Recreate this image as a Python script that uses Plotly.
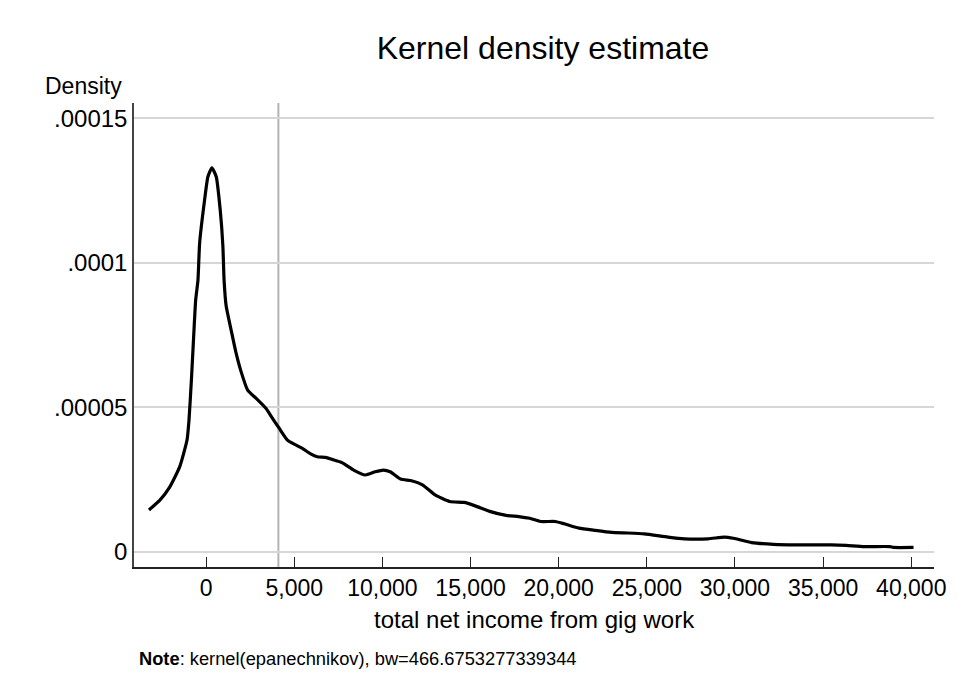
import plotly.graph_objects as go

# Kernel density estimate values
income = [-3240, -2620, -2057, -1494, -1082, -970, -834, -687, -592, -462, -366,
          -85, 102, 327, 575, 800, 950, 1020, 1138, 1420, 1702, 1984, 2356, 2829,
          3393, 3766, 4143, 4612, 5085, 5457, 5930, 6302, 6776, 7147, 7711, 8371,
          9030, 9594, 10062, 10440, 11032, 11651, 12270, 12992, 13818, 14643,
          15262, 16088, 17016, 17739, 18358, 18977, 19802, 20318, 21144, 22072,
          23000, 23929, 24857, 26199, 27127, 28469, 29397, 29913, 30945, 32183,
          33421, 35485, 36310, 37342, 38787, 38993, 40128]
density_e5 = [1.44, 1.78, 2.24, 2.94, 3.86, 4.55, 5.94, 7.67, 8.71, 9.4, 10.69,
              12.18, 12.98, 13.29, 12.98, 11.83, 10.6, 9.4, 8.5, 7.67, 6.87, 6.23,
              5.59, 5.31, 4.96, 4.61, 4.27, 3.86, 3.69, 3.57, 3.38, 3.28, 3.26,
              3.19, 3.08, 2.82, 2.65, 2.76, 2.82, 2.76, 2.51, 2.45, 2.31, 1.96,
              1.73, 1.70, 1.58, 1.39, 1.25, 1.21, 1.15, 1.04, 1.04, 0.96, 0.81,
              0.73, 0.66, 0.64, 0.61, 0.50, 0.44, 0.44, 0.50, 0.46, 0.31, 0.25,
              0.23, 0.23, 0.21, 0.17, 0.17, 0.14, 0.14]
density = [v * 1e-5 for v in density_e5]

x_tickvals = [0, 5000, 10000, 15000, 20000, 25000, 30000, 35000, 40000]
x_ticktext = ["0", "5,000", "10,000", "15,000", "20,000", "25,000", "30,000", "35,000", "40,000"]
y_tickvals = [0, 0.00005, 0.0001, 0.00015]
y_ticktext = ["0", ".00005", ".0001", ".00015"]
ref_line_x = 4100

FONT = "Liberation Sans, Arial, sans-serif"

fig = go.Figure()
fig.add_trace(go.Scatter(
    x=income, y=density, mode="lines",
    line=dict(color="black", width=3.2, shape="spline", smoothing=0.5),
    showlegend=False, hoverinfo="skip",
))

fig.add_shape(type="line", xref="x", yref="paper",
              x0=ref_line_x, x1=ref_line_x, y0=0, y1=1,
              line=dict(color="#b4b4b4", width=2), layer="below")

fig.update_layout(
    width=958, height=692,
    margin=dict(l=134, r=19, t=103, b=125),
    paper_bgcolor="white", plot_bgcolor="white",
    font=dict(family=FONT, color="black"),
    title=dict(text="Kernel density estimate", x=543 / 958, xanchor="center",
               y=1 - 48 / 692, yanchor="middle", yref="container",
               font=dict(size=32, color="black", family=FONT)),
    xaxis=dict(range=[-4090, 41290], tickvals=x_tickvals, ticktext=x_ticktext,
               ticks="inside", ticklen=10, tickwidth=1.2, tickcolor="#222",
               showline=True, linecolor="#222", linewidth=1.5,
               showgrid=False, zeroline=False,
               tickfont=dict(size=23, color="black"), ticklabelstandoff=0),
    yaxis=dict(range=[-5.37e-6, 1.5535e-4], tickvals=y_tickvals, ticktext=y_ticktext,
               ticks="", showline=True, linecolor="#444", linewidth=1.5,
               showgrid=True, gridcolor="#d6d6d6", gridwidth=2, zeroline=False,
               tickfont=dict(size=24, color="black"), ticklabelstandoff=0),
)

fig.add_annotation(text="Density", xref="paper", yref="paper",
                   x=(42 - 134) / 805, y=(567 - 86) / 464, xanchor="left", yanchor="middle",
                   showarrow=False, font=dict(size=23, color="black"))
fig.add_annotation(text="total net income from gig work", xref="paper", yref="paper",
                   x=(537 - 134) / 805, y=(567 - 619) / 464, xanchor="center", yanchor="middle",
                   showarrow=False, font=dict(size=24, color="black"))
fig.add_annotation(text="<b>Note</b>: kernel(epanechnikov), bw=466.6753277339344",
                   xref="paper", yref="paper",
                   x=(137 - 134) / 805, y=(567 - 658) / 464, xanchor="left", yanchor="middle",
                   showarrow=False, font=dict(size=18.3, color="black"))

fig.write_html("out.html")
